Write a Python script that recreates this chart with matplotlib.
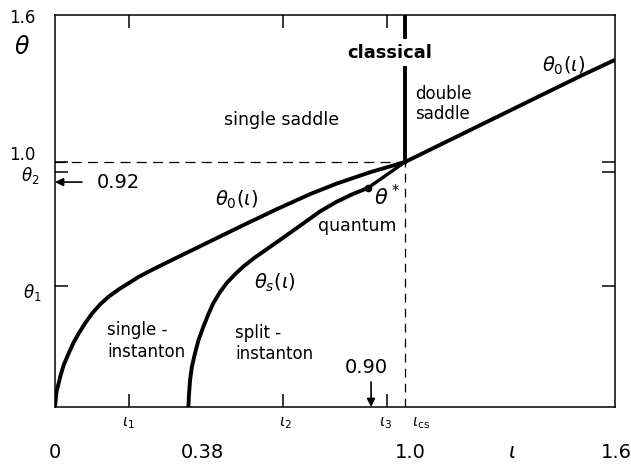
import numpy as np
import matplotlib
matplotlib.use('Agg')
import matplotlib.pyplot as plt

plt.rcParams['font.family'] = ['DejaVu Sans']
plt.rcParams['mathtext.fontset'] = 'dejavusans'

# boundary theta_0(iota): single-saddle / instanton region
iota_0 = [0.000, 0.004, 0.015, 0.025, 0.039, 0.053, 0.068, 0.087,
          0.106, 0.129, 0.153, 0.182, 0.210, 0.239, 0.272, 0.310, 0.357,
          0.433, 0.529, 0.633, 0.729, 0.805, 0.900, 1.000,
          1.100, 1.200, 1.300, 1.400, 1.500, 1.600]
theta_0 = [0.000, 0.060, 0.124, 0.172, 0.219, 0.263, 0.301, 0.344,
           0.382, 0.419, 0.450, 0.480, 0.505, 0.531, 0.556, 0.583, 0.616,
           0.669, 0.736, 0.807, 0.869, 0.912, 0.958, 1.000,
           1.070, 1.140, 1.210, 1.280, 1.350, 1.417]

# boundary theta_s(iota): split-instanton region, ends at theta*
iota_s = [0.381, 0.383, 0.386, 0.391, 0.400, 0.410, 0.424, 0.438, 0.452,
          0.471, 0.490, 0.514, 0.538, 0.567, 0.595, 0.619, 0.643, 0.709,
          0.757, 0.805, 0.852, 0.894]
theta_s = [0.000, 0.056, 0.110, 0.164, 0.219, 0.273, 0.328, 0.378, 0.423,
           0.468, 0.505, 0.541, 0.573, 0.606, 0.634, 0.658, 0.682, 0.749,
           0.798, 0.838, 0.870, 0.894]

theta_star = (0.894, 0.894)
crit = (1.0, 1.0)          # (iota_cs, theta = 1)

iota_ticks = [0.21, 0.65, 0.949]
iota_tick_labels = [r'$\iota_1$', r'$\iota_2$', r'$\iota_3$']
theta_ticks = [0.494, 0.96, 1.0]
iota_marked = 0.90
theta_marked = 0.918

fig = plt.figure(figsize=(6.31, 4.66), dpi=100)
ax = fig.add_axes([55 / 631, 59 / 466, 560 / 631, 392 / 466])
ax.set_xlim(0, 1.6)
ax.set_ylim(0, 1.6)

for s in ax.spines.values():
    s.set_linewidth(1.1)
ax.set_xticks(iota_ticks)
ax.set_yticks(theta_ticks)
ax.set_xticklabels([])
ax.set_yticklabels([])
ax.tick_params(direction='in', length=9.5, width=1.1,
               top=True, right=True, bottom=True, left=True)

# curves
ax.plot(iota_0, theta_0, color='k', lw=2.8, solid_capstyle='butt',
        solid_joinstyle='round')
ax.plot(iota_s, theta_s, color='k', lw=2.8, solid_capstyle='butt',
        solid_joinstyle='round')
ax.plot([theta_star[0], crit[0]], [theta_star[1], crit[1]], color='k', lw=2.4)
ax.plot(*theta_star, 'o', color='k', ms=4.5)

# classical line above the critical point (broken for the label)
ax.plot([crit[0], crit[0]], [crit[1], 1.384], color='k', lw=2.8)
ax.plot([crit[0], crit[0]], [1.51, 1.6], color='k', lw=2.8)

# dashed guides
ax.plot([0, crit[0]], [crit[1], crit[1]], color='k', lw=0.9, dashes=(8, 5))
ax.plot([crit[0], crit[0]], [0, crit[1]], color='k', lw=0.9, dashes=(7, 5))

# region labels
ax.text(0.647, 1.171, 'single saddle', fontsize=12.5, ha='center', va='center')
ax.text(0.957, 1.445, 'classical', fontsize=13, fontweight='bold',
        ha='center', va='center')
ax.text(1.029, 1.236, 'double\nsaddle', fontsize=12, ha='left', va='center',
        linespacing=1.1)
ax.text(0.863, 0.739, 'quantum', fontsize=12.5, ha='center', va='center')
ax.text(0.149, 0.269, 'single -\ninstanton', fontsize=12, ha='left',
        va='center', linespacing=1.25)
ax.text(0.514, 0.26, 'split -\ninstanton', fontsize=12, ha='left',
        va='center', linespacing=1.25)

# curve labels
ax.text(0.518, 0.845, r'$\theta_0(\iota)$', fontsize=14, ha='center', va='center')
ax.text(1.454, 1.392, r'$\theta_0(\iota)$', fontsize=14, ha='center', va='center')
ax.text(0.629, 0.506, r'$\theta_s(\iota)$', fontsize=14, ha='center', va='center')
ax.text(0.950, 0.857, r'$\theta^*$', fontsize=15, ha='center', va='center')

# marked values
ax.annotate('', xy=(0, theta_marked), xytext=(0.077, theta_marked),
            arrowprops=dict(arrowstyle='-|>', color='k', lw=1.2,
                            shrinkA=0, shrinkB=0, mutation_scale=12))
ax.text(0.12, theta_marked, f'{theta_marked:.2f}', fontsize=14,
        ha='left', va='center')
ax.annotate('', xy=(iota_marked + 0.003, 0), xytext=(iota_marked + 0.003, 0.102),
            arrowprops=dict(arrowstyle='-|>', color='k', lw=1.2,
                            shrinkA=0, shrinkB=0, mutation_scale=12))
ax.text(0.889, 0.163, f'{iota_marked:.2f}', fontsize=14, ha='center', va='center')

# axis labels drawn by hand
kw = dict(ha='center', va='center', clip_on=False)
ax.text(-0.094, 1.588, '1.6', fontsize=12, **kw)
ax.text(-0.094, 1.469, r'$\theta$', fontsize=17, **kw)
ax.text(-0.094, 1.029, '1.0', fontsize=12, **kw)
ax.text(-0.071, 0.943, r'$\theta_2$', fontsize=12, **kw)
ax.text(-0.066, 0.469, r'$\theta_1$', fontsize=12, **kw)

ax.text(0.0, -0.184, '0', fontsize=14, **kw)
ax.text(0.42, -0.184, '0.38', fontsize=14, **kw)
ax.text(1.014, -0.184, '1.0', fontsize=14, **kw)
ax.text(1.306, -0.184, r'$\iota$', fontsize=15, **kw)
ax.text(1.603, -0.184, '1.6', fontsize=14, **kw)

for x, lab in zip([0.21, 0.657, 0.943], iota_tick_labels):
    ax.text(x, -0.065, lab, fontsize=11, **kw)
ax.text(1.045, -0.065, r'$\iota_{\rm cs}$', fontsize=11, **kw)

fig.savefig('out.png', dpi=100)
